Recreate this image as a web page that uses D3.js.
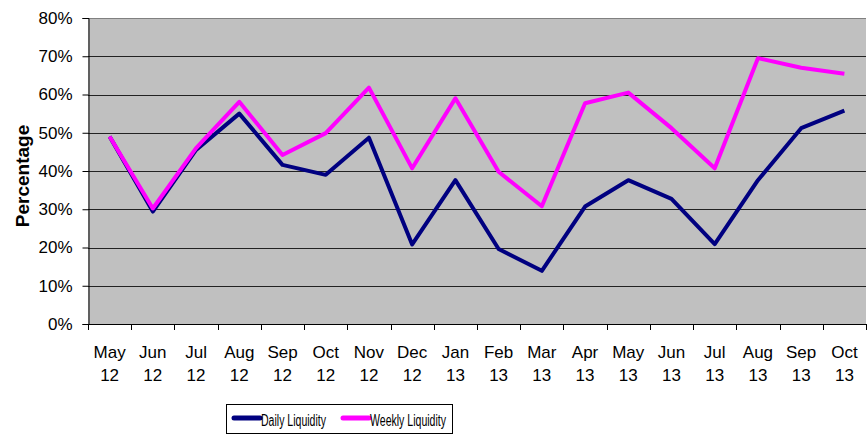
<!DOCTYPE html>
<html>
<head>
<meta charset="utf-8">
<script src="https://cdn.jsdelivr.net/npm/d3@7"></script>
<style>
  body { margin: 0; background: #fff; }
  svg { display: block; font-family: Arial, "Liberation Sans", sans-serif; }
</style>
</head>
<body>
<svg id="chart" width="867" height="434"></svg>
<script>
// month labels, two lines each
const months = ["May", "Jun", "Jul", "Aug", "Sep", "Oct", "Nov", "Dec", "Jan", "Feb", "Mar", "Apr", "May", "Jun", "Jul", "Aug", "Sep", "Oct"];
const years = ["12", "12", "12", "12", "12", "12", "12", "12", "13", "13", "13", "13", "13", "13", "13", "13", "13", "13"];

const dailyLiquidity = [49.0, 29.4, 45.5, 55.0, 41.6, 39.0, 48.7, 20.8, 37.6, 19.6, 13.9, 30.7, 37.6, 32.7, 20.9, 37.6, 51.2, 55.8];
const weeklyLiquidity = [49.0, 30.2, 46.0, 58.1, 44.2, 49.9, 61.8, 40.7, 59.0, 39.8, 30.8, 57.7, 60.5, 51.2, 40.7, 69.5, 67.0, 65.4];

const yTicks = [0, 10, 20, 30, 40, 50, 60, 70, 80];

const svg = d3.select("#chart");
const margin = { left: 88, right: 1, top: 18, bottom: 110 };
const width = 867, height = 434;
const plotW = width - margin.left - margin.right;
const plotH = height - margin.top - margin.bottom;

const x = d3.scaleBand().domain(d3.range(months.length)).range([margin.left, margin.left + plotW]);
const y = d3.scaleLinear().domain([0, 80]).range([margin.top + plotH, margin.top]);

// plot background
svg.append("rect")
    .attr("x", margin.left).attr("y", margin.top)
    .attr("width", plotW).attr("height", plotH)
    .attr("fill", "#c0c0c0");

// gridlines
svg.append("g")
    .selectAll("line")
    .data(yTicks.filter(t => t > 0 && t < 80))
    .join("line")
    .attr("x1", margin.left).attr("x2", margin.left + plotW)
    .attr("y1", d => Math.round(y(d)) + 0.5).attr("y2", d => Math.round(y(d)) + 0.5)
    .attr("stroke", "#222").attr("stroke-width", 1);

// top border of plot
svg.append("line")
    .attr("x1", margin.left).attr("x2", margin.left + plotW)
    .attr("y1", margin.top + 0.5).attr("y2", margin.top + 0.5)
    .attr("stroke", "#808080");

// y axis
const yAxis = svg.append("g")
    .attr("transform", `translate(${margin.left + 0.5},0)`)
    .call(d3.axisLeft(y).tickValues(yTicks).tickFormat(d => d + "%").tickSize(6).tickPadding(10));
yAxis.select(".domain").attr("stroke", "#000");
yAxis.selectAll(".tick line").attr("stroke", "#000");
yAxis.selectAll(".tick text").attr("font-size", "17px").attr("fill", "#000").attr("font-family", "Arial, 'Liberation Sans', sans-serif");

// x axis: ticks at category boundaries
const xEdges = d3.range(months.length + 1).map(i => margin.left + i * x.bandwidth());
svg.append("line")
    .attr("x1", margin.left).attr("x2", margin.left + plotW)
    .attr("y1", y(0) + 0.5).attr("y2", y(0) + 0.5)
    .attr("stroke", "#000");
svg.append("g")
    .selectAll("line")
    .data(xEdges)
    .join("line")
    .attr("x1", d => Math.round(d) + 0.5).attr("x2", d => Math.round(d) + 0.5)
    .attr("y1", y(0)).attr("y2", y(0) + 6)
    .attr("stroke", "#000");

const xLabels = svg.append("g")
    .attr("font-size", "17px")
    .attr("text-anchor", "middle")
    .attr("fill", "#000");
xLabels.selectAll("text.m")
    .data(months)
    .join("text")
    .attr("class", "m")
    .attr("x", (d, i) => x(i) + x.bandwidth() / 2)
    .attr("y", 358)
    .text(d => d);
xLabels.selectAll("text.yr")
    .data(years)
    .join("text")
    .attr("class", "yr")
    .attr("x", (d, i) => x(i) + x.bandwidth() / 2)
    .attr("y", 381)
    .text(d => d);

// y axis title
svg.append("text")
    .attr("transform", `translate(29,${(margin.top + y(0)) / 2 + 5}) rotate(-90)`)
    .attr("text-anchor", "middle")
    .attr("font-size", "19px")
    .attr("font-weight", "bold")
    .attr("fill", "#000")
    .text("Percentage");

// lines
const line = d3.line()
    .x((d, i) => x(i) + x.bandwidth() / 2)
    .y(d => y(d));

svg.append("path")
    .datum(dailyLiquidity)
    .attr("d", line)
    .attr("fill", "none")
    .attr("stroke", "#000080")
    .attr("stroke-width", 4)
    .attr("stroke-linejoin", "round");

svg.append("path")
    .datum(weeklyLiquidity)
    .attr("d", line)
    .attr("fill", "none")
    .attr("stroke", "#ff00ff")
    .attr("stroke-width", 4)
    .attr("stroke-linejoin", "round");

// legend
const legend = svg.append("g");
legend.append("rect")
    .attr("x", 226.5).attr("y", 404.5)
    .attr("width", 226).attr("height", 29)
    .attr("fill", "#fff").attr("stroke", "#000");

const legendItems = [
    { name: "Daily Liquidity", color: "#000080", x: 234, len: 65 },
    { name: "Weekly Liquidity", color: "#ff00ff", x: 343, len: 76 }
];
legendItems.forEach(item => {
    legend.append("line")
        .attr("x1", item.x).attr("x2", item.x + 26)
        .attr("y1", 418).attr("y2", 418)
        .attr("stroke", item.color).attr("stroke-width", 5)
        .attr("stroke-linecap", "round");
    legend.append("text")
        .attr("x", item.x + 27).attr("y", 426)
        .attr("font-size", "16px")
        .attr("fill", "#000")
        .attr("textLength", item.len)
        .attr("lengthAdjust", "spacingAndGlyphs")
        .text(item.name);
});
</script>
</body>
</html>
